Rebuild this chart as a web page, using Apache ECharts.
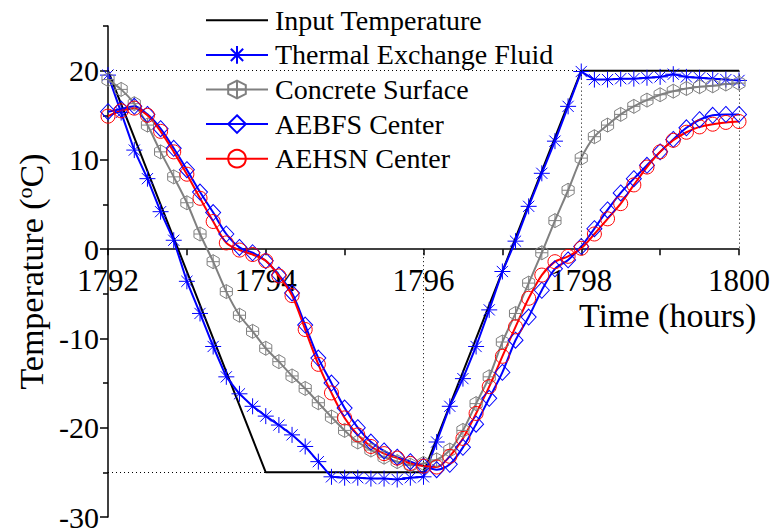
<!DOCTYPE html>
<html>
<head>
<meta charset="utf-8">
<script src="https://cdn.jsdelivr.net/npm/echarts@6/dist/echarts.min.js"></script>
<style>
html,body{margin:0;padding:0;background:#fff;}
#chart{width:773px;height:528px;}
</style>
</head>
<body>
<div id="chart"></div>
<script>
// ---- data ----
const seriesNames = ['Input Temperature', 'Thermal Exchange Fluid', 'Concrete Surface', 'AEBFS Center', 'AEHSN Center'];
const startHour = 1792;
const stepHours = 1 / 6; // samples every 10 minutes
const inputTimes = [1792, 1794, 1796, 1798, 1800];
const inputTemps = [20, -25, -25, 20, 20];
const fluidTemps = [19.5, 15.3, 11.1, 7.9, 4.2, 1.0, -3.6, -7.2, -10.9, -14.3, -16.2, -17.6, -18.7,
  -19.7, -20.8, -22.1, -23.8, -25.5, -25.6, -25.6, -25.7, -25.7, -25.8, -25.6, -25.5,
  -21.6, -17.6, -14.5, -10.9, -6.8, -2.5, 0.9, 4.8, 8.5, 12.1, 16.0, 19.9,
  19.0, 19.0, 19.1, 19.1, 19.2, 19.3, 19.6, 19.3, 19.2, 19.1, 19.0, 18.9];
const concreteTemps = [19.0, 17.9, 16.3, 13.9, 10.9, 8.1, 5.2, 1.7, -1.4, -4.75, -7.4, -9.2, -11.1,
  -12.6, -14.2, -15.6, -17.2, -18.8, -20.3, -21.6, -22.5, -23.3, -23.8, -24.2, -24.0,
  -23.6, -22.5, -20.3, -17.3, -14.3, -10.4, -7.2, -3.8, -0.4, 3.2, 6.6, 10.2,
  12.6, 13.9, 15.1, 16.0, 16.7, 17.3, 17.7, 18.0, 18.2, 18.3, 18.5, 18.6];
const aebfsTemps = [15.4, 15.7, 16.0, 15.1, 13.5, 11.3, 8.9, 6.4, 4.1, 1.7, 0.2, -0.4, -1.3,
  -2.9, -4.9, -8.5, -12.2, -15.0, -17.8, -20.0, -21.6, -22.6, -23.3, -23.8, -24.3,
  -24.7, -24.1, -22.2, -19.6, -16.7, -13.8, -10.2, -7.6, -4.6, -2.2, -1.2, 0.3,
  2.3, 4.4, 6.3, 7.9, 9.4, 10.9, 12.3, 13.6, 14.5, 15.0, 15.1, 15.1];
const aehsnTemps = [14.9, 15.5, 15.8, 15.0, 13.2, 10.9, 8.4, 5.7, 3.1, 0.7, -0.1, -0.6, -1.3,
  -3.0, -5.2, -9.0, -12.9, -16.1, -18.9, -20.8, -22.1, -22.9, -23.4, -24.0, -24.3,
  -24.4, -23.2, -21.2, -18.4, -15.4, -12.0, -8.7, -5.5, -2.9, -1.4, -0.8, 0.1,
  1.7, 3.4, 5.1, 7.2, 9.2, 10.9, 12.2, 13.1, 13.7, 14.0, 14.2, 14.3];
const xTickLabels = [1792, 1794, 1796, 1798, 1800];
const yMajorTicks = [-30, -20, -10, 0, 10, 20];
const yMinorTicks = [-25, -15, -5, 5, 15, 25];
// dotted guide segments [[x1,y1],[x2,y2]]
const guideSegments = [
  [[1792, 20], [1800, 20]],
  [[1792, -25], [1794, -25]],
  [[1796, 0], [1796, -25]],
  [[1798, 20], [1798, 0]],
  [[1800, 20], [1800, 0]]
];

// ---- build ----
const pair = vals => vals.map((v, i) => [startHour + i * stepHours, v]);
const FONT = 'Liberation Serif';
const ASTERISK = 'path://M10,0L10,20M0,10L20,10M3,3L17,17M3,17L17,3';
const HEXPLUS = 'path://M10,0L18.66,5L18.66,15L10,20L1.34,15L1.34,5ZM10,0L10,20M1.34,10L18.66,10';
const BLUE = '#0000ff', RED = '#ff0000', GRAY = '#808080';
const yMin = -30, yMax = 25;

const chart = echarts.init(document.getElementById('chart'), null, {renderer: 'svg'});
chart.setOption({
  animation: false,
  backgroundColor: '#fff',
  textStyle: {fontFamily: FONT},
  grid: {left: 108, right: 34, top: 26, bottom: 11, containLabel: false, outerBoundsMode: 'none'},
  legend: {
    orient: 'vertical', left: 205, top: 3, padding: 0,
    itemWidth: 62, itemHeight: 22, itemGap: 0,
    data: [
      {name: seriesNames[0], itemStyle: {color: 'transparent', borderColor: 'transparent', opacity: 0}},
      seriesNames[1], seriesNames[2], seriesNames[3], seriesNames[4]
    ],
    textStyle: {fontFamily: FONT, fontSize: 28, color: '#000', lineHeight: 34.6, padding: [0, 0, 0, 2]}
  },
  xAxis: {
    type: 'value', min: 1792, max: 1800, interval: 2,
    axisLine: {onZero: false, lineStyle: {color: '#000', width: 1.5}},
    axisTick: {show: true, length: 6, lineStyle: {color: '#000', width: 1.5}},
    minorTick: {show: true, splitNumber: 2, length: 6, lineStyle: {color: '#000', width: 1.5}},
    axisLabel: {fontFamily: FONT, fontSize: 31, color: '#000', margin: 16,
      customValues: xTickLabels, formatter: v => String(v)},
    splitLine: {show: false}
  },
  yAxis: [{
    type: 'value', min: yMin, max: yMax, position: 'left',
    axisLine: {show: true, onZero: false, lineStyle: {color: '#000', width: 1.5}},
    axisTick: {show: true, length: 8, customValues: yMajorTicks, lineStyle: {color: '#000', width: 1.5}},
    axisLabel: {fontFamily: FONT, fontSize: 30, lineHeight: 20, color: '#000', margin: 9,
      customValues: yMajorTicks, formatter: v => String(v)},
    splitLine: {show: false},
    name: 'Temperature ({sup|o}C)',
    nameLocation: 'middle', nameGap: 58,
    nameTextStyle: {fontFamily: FONT, fontSize: 34, color: '#000',
      rich: {sup: {fontFamily: FONT, fontSize: 22, color: '#000', padding: [0, 0, 14, 0]}}}
  }, {
    type: 'value', min: yMin, max: yMax, position: 'left',
    axisLine: {show: false, onZero: false},
    axisTick: {show: true, length: 5, customValues: yMinorTicks, lineStyle: {color: '#000', width: 1.5}},
    axisLabel: {show: false},
    splitLine: {show: false}
  }],
  graphic: [{
    type: 'text', left: 579, top: 298,
    style: {text: 'Time (hours)', font: '34px ' + FONT, fill: '#000'}
  }],
  series: [{
    name: seriesNames[0], type: 'line', data: inputTimes.map((t, i) => [t, inputTemps[i]]),
    symbol: 'none', lineStyle: {color: '#000', width: 2}, itemStyle: {color: '#000'},
    markLine: {
      silent: true, symbol: ['none', 'none'], label: {show: false},
      lineStyle: {color: '#000', width: 1, type: [1, 3]},
      data: guideSegments.map(s => [{coord: s[0]}, {coord: s[1]}])
    }
  }, {
    name: seriesNames[1], type: 'line', data: pair(fluidTemps),
    symbol: ASTERISK, symbolSize: 16,
    lineStyle: {color: BLUE, width: 2},
    itemStyle: {color: 'transparent', borderColor: BLUE, borderWidth: 1}
  }, {
    name: seriesNames[2], type: 'line', data: pair(concreteTemps), smooth: 0.3,
    symbol: HEXPLUS, symbolSize: 14, symbolKeepAspect: true,
    lineStyle: {color: GRAY, width: 2},
    itemStyle: {color: 'transparent', borderColor: GRAY, borderWidth: 1}
  }, {
    name: seriesNames[3], type: 'line', data: pair(aebfsTemps), smooth: 0.3,
    symbol: 'diamond', symbolSize: [15, 16],
    lineStyle: {color: BLUE, width: 2},
    itemStyle: {color: 'transparent', borderColor: BLUE, borderWidth: 1}
  }, {
    name: seriesNames[4], type: 'line', data: pair(aehsnTemps), smooth: 0.3,
    symbol: 'circle', symbolSize: 14,
    lineStyle: {color: RED, width: 2},
    itemStyle: {color: 'transparent', borderColor: RED, borderWidth: 1}
  }]
});
// place the time axis on the y = 0 line, using the y scale
const yZeroPx = chart.convertToPixel({yAxisIndex: 0}, 0);
const yBottomPx = chart.convertToPixel({yAxisIndex: 0}, yMin);
chart.setOption({xAxis: {offset: yZeroPx - yBottomPx}});
</script>
</body>
</html>
